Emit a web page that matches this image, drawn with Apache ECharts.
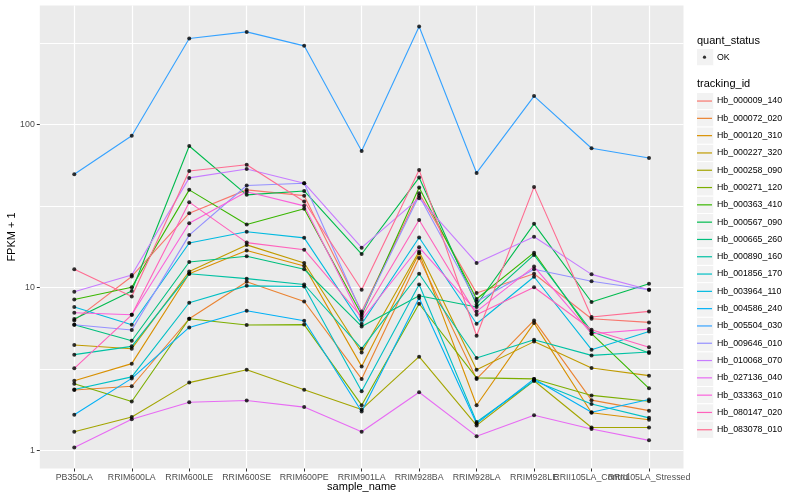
<!DOCTYPE html>
<html><head><meta charset="utf-8">
<script src="https://cdn.jsdelivr.net/npm/echarts@6/dist/echarts.min.js"></script>
<style>html,body{margin:0;padding:0;background:#fff}#c{width:800px;height:500px}</style>
</head><body><div id="c"></div>
<script>
const categories = ['PB350LA','RRIM600LA','RRIM600LE','RRIM600SE','RRIM600PE','RRIM901LA','RRIM928BA','RRIM928LA','RRIM928LE','RRII105LA_Control','RRII105LA_Stressed'];
const trackingIds = ['Hb_000009_140','Hb_000072_020','Hb_000120_310','Hb_000227_320','Hb_000258_090','Hb_000271_120','Hb_000363_410','Hb_000567_090','Hb_000665_260','Hb_000890_160','Hb_001856_170','Hb_003964_110','Hb_004586_240','Hb_005504_030','Hb_009646_010','Hb_010068_070','Hb_027136_040','Hb_033363_010','Hb_080147_020','Hb_083078_010'];
const lineColors = ['#F8766D','#EA8331','#D89000','#C09B00','#A3A500','#7CAE00','#39B600','#00BB4E','#00BF7D','#00C1A3','#00BFC4','#00BAE0','#00B0F6','#35A2FF','#9590FF','#C77CFF','#E76BF3','#FA62DB','#FF62BC','#FF6C91'];
const quantStatus = ['OK'];
const yTicks = [1, 10, 100];
const yMinorTicks = [Math.sqrt(10), 10 * Math.sqrt(10), 100 * Math.sqrt(10)];

// FPKM + 1 per sample, one array per tracking_id
const hb_000009_140 = [6.26, 11.65, 28.5, 39.6, 36.5, 7.11, 37.8, 9.21, 12.1, 6.41, 6.09];
const hb_000072_020 = [2.34, 2.47, 6.41, 10.8, 8.18, 2.74, 15.1, 2.74, 6.26, 2.03, 1.75];
const hb_000120_310 = [2.67, 3.40, 12.1, 16.8, 13.5, 3.27, 16.2, 1.89, 6.03, 1.70, 1.54];
const hb_000227_320 = [4.42, 4.20, 12.5, 18.2, 14.1, 3.98, 16.6, 3.12, 4.64, 3.20, 2.87];
const hb_000258_090 = [1.30, 1.60, 2.60, 3.12, 2.35, 1.78, 3.75, 1.42, 2.67, 1.38, 1.38];
const hb_000271_120 = [2.56, 1.99, 6.41, 5.87, 5.90, 1.89, 7.92, 2.78, 2.74, 2.17, 2.00];
const hb_000363_410 = [8.42, 10.0, 39.6, 24.3, 30.3, 6.78, 40.9, 8.47, 16.3, 5.19, 2.40];
const hb_000567_090 = [6.38, 9.48, 73.6, 36.9, 39.0, 16.0, 47.1, 7.81, 24.5, 8.12, 10.5];
const hb_000665_260 = [5.89, 4.70, 14.3, 15.5, 12.9, 5.75, 8.87, 7.56, 15.8, 5.36, 3.95];
const hb_000890_160 = [3.86, 4.34, 12.1, 11.3, 10.4, 4.20, 12.1, 3.68, 4.77, 3.82, 4.01];
const hb_001856_170 = [2.36, 2.82, 8.04, 10.2, 10.1, 2.30, 10.4, 1.49, 2.67, 1.92, 1.58];
const hb_003964_110 = [7.56, 5.89, 18.7, 21.9, 20.1, 5.95, 20.2, 5.97, 11.6, 4.14, 5.36];
const hb_004586_240 = [1.65, 2.76, 5.67, 7.18, 6.23, 1.73, 8.59, 1.46, 2.74, 1.71, 2.05];
const hb_005504_030 = [49.4, 85.1, 336, 369, 303, 68.6, 398, 50.3, 149, 71.3, 62.1];
const hb_009646_010 = [5.89, 5.47, 20.9, 42.1, 43.5, 6.95, 36.4, 8.18, 12.9, 10.9, 9.65];
const hb_010068_070 = [9.38, 11.9, 46.9, 53.2, 43.5, 17.5, 35.2, 14.1, 20.4, 12.0, 9.65];
const hb_027136_040 = [1.04, 1.55, 1.97, 2.02, 1.84, 1.30, 2.27, 1.22, 1.64, 1.35, 1.15];
const hb_033363_010 = [6.98, 6.78, 24.7, 38.6, 31.6, 6.32, 17.6, 7.11, 13.4, 5.19, 5.54];
const hb_080147_020 = [3.18, 6.78, 33.3, 18.8, 17.0, 6.57, 25.9, 6.78, 10.0, 5.49, 4.28];
const hb_083078_010 = [12.9, 8.78, 51.7, 56.5, 33.6, 9.65, 52.5, 5.04, 41.3, 6.57, 7.11];

const seriesValues = [hb_000009_140, hb_000072_020, hb_000120_310, hb_000227_320, hb_000258_090, hb_000271_120, hb_000363_410, hb_000567_090, hb_000665_260, hb_000890_160, hb_001856_170, hb_003964_110, hb_004586_240, hb_005504_030, hb_009646_010, hb_010068_070, hb_027136_040, hb_033363_010, hb_080147_020, hb_083078_010];

const FONT = 'Liberation Sans, Arial, Helvetica, sans-serif';
const panel = {left: 39.8, right: 683.5, top: 5.5, bottom: 468.5};
const catStep = (panel.right - panel.left) / (categories.length - 1 + 1.2);
const firstCat = panel.left + 0.6 * catStep;
const lastCat = panel.right - 0.6 * catStep;
const yMin = Math.pow(10, -0.112), yMax = Math.pow(10, 2.729);

const chart = echarts.init(document.getElementById('c'), null, {renderer: 'canvas'});

const lineSeries = trackingIds.map((id, k) => ({
  type: 'line', name: id, xAxisIndex: 0, yAxisIndex: 2,
  data: seriesValues[k], symbol: 'none', silent: true, animation: false,
  color: lineColors[k],
  lineStyle: {color: lineColors[k], width: 1.1},
  itemStyle: {color: lineColors[k]},
  z: 3
}));
const pointData = [];
seriesValues.forEach(vals => vals.forEach((v, i) => pointData.push([i, v])));
const pointSeries = {
  type: 'scatter', name: quantStatus[0], xAxisIndex: 0, yAxisIndex: 2,
  data: pointData, symbol: 'circle', symbolSize: 4, silent: true, animation: false,
  itemStyle: {color: '#000'}, z: 5
};

const keyH = 17.3;
const keyTop1 = 92.4, keyTop0 = 48.5;
const graphics = [];
graphics.push({type: 'rect', z: 0, shape: {x: 696.5, y: keyTop0, width: keyH, height: keyH}, style: {fill: '#F2F2F2', stroke: '#fff', lineWidth: 1}});
trackingIds.forEach((id, i) => {
  graphics.push({type: 'rect', z: 0, shape: {x: 696.5, y: keyTop1 + i * keyH, width: keyH, height: keyH}, style: {fill: '#F2F2F2', stroke: '#fff', lineWidth: 1}});
});
graphics.push({type: 'text', z: 1, x: 697, y: 40.5, style: {text: 'quant_status', font: '11px ' + FONT, fill: '#000', textVerticalAlign: 'middle'}});
graphics.push({type: 'text', z: 1, x: 697, y: 84, style: {text: 'tracking_id', font: '11px ' + FONT, fill: '#000', textVerticalAlign: 'middle'}});

const isTick = v => yTicks.some(t => Math.abs(t - v) / t < 1e-6);

chart.setOption({
  animation: false,
  backgroundColor: '#fff',
  textStyle: {fontFamily: FONT},
  grid: [
    {left: firstCat, width: lastCat - firstCat, top: panel.top, height: panel.bottom - panel.top, show: false, containLabel: false, outerBoundsMode: 'none'},
    {left: panel.left, width: panel.right - panel.left, top: panel.top, height: panel.bottom - panel.top, show: true, backgroundColor: '#EBEBEB', borderWidth: 0, containLabel: false, outerBoundsMode: 'none', z: -1}
  ],
  xAxis: [
    {type: 'category', gridIndex: 0, data: categories, boundaryGap: false,
     name: 'sample_name', nameLocation: 'middle', nameGap: 13, nameMoveOverlap: false,
     nameTextStyle: {fontSize: 11, color: '#000', fontFamily: FONT},
     axisLine: {show: false},
     axisTick: {show: true, length: 3, lineStyle: {color: '#333', width: 1}},
     axisLabel: {interval: 0, fontSize: 8.8, color: '#4D4D4D', margin: 5, fontFamily: FONT, hideOverlap: false},
     splitLine: {show: true, lineStyle: {color: '#fff', width: 1.2}}, z: 2},
    {type: 'value', gridIndex: 1, min: 0, max: 1, show: false, splitLine: {show: false}}
  ],
  yAxis: [
    {type: 'log', gridIndex: 1, logBase: 10, min: yMin, max: yMax, position: 'left',
     name: 'FPKM + 1', nameLocation: 'middle', nameGap: 22, nameRotate: 90, nameMoveOverlap: false,
     nameTextStyle: {fontSize: 11, color: '#000', fontFamily: FONT},
     axisLine: {show: false},
     axisTick: {show: true, length: 3, customValues: yTicks, lineStyle: {color: '#333', width: 1}},
     axisLabel: {fontSize: 8.8, color: '#4D4D4D', margin: 5, fontFamily: FONT, customValues: yTicks,
       formatter: v => isTick(v) ? String(Math.round(v)) : ''},
     splitLine: {show: true, lineStyle: {color: '#fff', width: 1.2}}, z: 2},
    {type: 'log', gridIndex: 1, logBase: 10, min: yMin, max: yMax, position: 'right',
     axisLine: {show: false},
     axisTick: {show: true, inside: true, length: 0.01, customValues: yMinorTicks, lineStyle: {color: 'rgba(0,0,0,0)', width: 0}},
     axisLabel: {show: false, customValues: yMinorTicks},
     splitLine: {show: true, lineStyle: {color: '#fff', width: 1}}, z: 1},
    {type: 'log', gridIndex: 0, logBase: 10, min: yMin, max: yMax, show: false,
     splitLine: {show: false}}
  ],
  legend: [
    {data: quantStatus, orient: 'vertical', left: 697, top: keyTop0, padding: 0,
     itemWidth: 15, itemHeight: keyH, itemGap: 0, selectedMode: false,
     icon: 'path://M0,0M15,17.3M5.9,8.65a1.6,1.6 0 1,0 3.2,0a1.6,1.6 0 1,0 -3.2,0z',
     itemStyle: {borderWidth: 0},
     textStyle: {fontSize: 8.8, color: '#000', fontFamily: FONT}},
    {data: trackingIds, orient: 'vertical', left: 697, top: keyTop1, padding: 0,
     itemWidth: 15, itemHeight: keyH, itemGap: 0, selectedMode: false,
     icon: 'path://M0,0M15,17.3M0,8.05h15v1.2h-15z',
     itemStyle: {borderWidth: 0},
     textStyle: {fontSize: 8.8, color: '#000', fontFamily: FONT}}
  ],
  graphic: graphics,
  series: lineSeries.concat([pointSeries])
});
</script>
</body></html>
